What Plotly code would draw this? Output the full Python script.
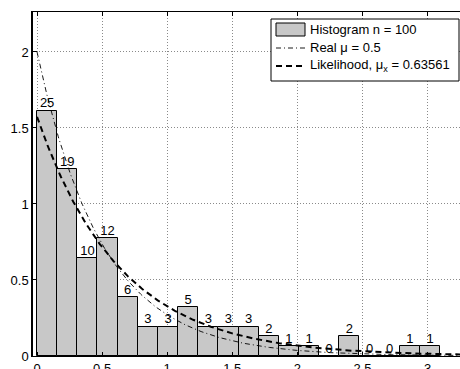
import numpy as np
import plotly.graph_objects as go

# Histogram of 100 exponential samples (bin counts) and the fitted pdfs
counts = [25, 19, 10, 12, 6, 3, 3, 5, 3, 3, 3, 2, 1, 1, 0, 2, 0, 0, 1, 1]
n_samples = 100
bin_start = 0.0
bin_width = 0.1548
mu_real = 0.5
mu_ml = 0.63561

x_ticks = [0, 0.5, 1, 1.5, 2, 2.5, 3]
x_tick_text = ["0", "0.5", "1", "1.5", "2", "2.5", "3"]
y_ticks = [0, 0.5, 1, 1.5, 2]
y_tick_text = ["0", "0.5", "1", "1.5", "2"]

counts_arr = np.array(counts, dtype=float)
centers = bin_start + bin_width * (np.arange(len(counts)) + 0.5)
density = counts_arr / (n_samples * bin_width)

xs = np.linspace(0, 3.4, 500)
pdf_real = (1.0 / mu_real) * np.exp(-xs / mu_real)
pdf_ml = (1.0 / mu_ml) * np.exp(-xs / mu_ml)

W, H = 460, 369
L, T, B, R = 33, 12, 13, 0
FONT = "Liberation Sans, Arial, Helvetica, sans-serif"

fig = go.Figure()
fig.add_trace(go.Bar(
    x=centers, y=density, width=bin_width,
    marker=dict(color="#c8c8c8", line=dict(color="black", width=1)),
    showlegend=False, hoverinfo="skip",
))
fig.add_trace(go.Scatter(
    x=xs, y=pdf_real, mode="lines",
    line=dict(color="black", width=0.9, dash="5px,3px,1px,3px"),
    showlegend=False, hoverinfo="skip",
))
fig.add_trace(go.Scatter(
    x=xs, y=pdf_ml, mode="lines",
    line=dict(color="black", width=2, dash="6px,4px"),
    showlegend=False, hoverinfo="skip",
))
fig.add_trace(go.Scatter(
    x=centers, y=density, mode="text",
    text=[str(c) for c in counts], textposition="top center",
    textfont=dict(family=FONT, size=13, color="black"),
    showlegend=False, hoverinfo="skip", cliponaxis=False,
))

# plot-area pixel -> paper coordinates
pw, ph = W - L - R, H - T - B
def px(x):
    return (x - L) / pw
def py(y):
    return (H - B - y) / ph

shapes = []
annotations = []
# legend box
shapes.append(dict(type="rect", xref="paper", yref="paper",
                   x0=px(271), x1=px(459), y0=py(81), y1=py(19),
                   fillcolor="white", line=dict(color="black", width=1), layer="above"))
shapes.append(dict(type="rect", xref="paper", yref="paper",
                   x0=px(276), x1=px(305), y0=py(36), y1=py(23),
                   fillcolor="#c8c8c8", line=dict(color="black", width=1), layer="above"))
shapes.append(dict(type="line", xref="paper", yref="paper",
                   x0=px(276), x1=px(305), y0=py(48), y1=py(48),
                   line=dict(color="black", width=0.9, dash="5px,3px,1px,3px"), layer="above"))
shapes.append(dict(type="line", xref="paper", yref="paper",
                   x0=px(276), x1=px(305), y0=py(66), y1=py(66),
                   line=dict(color="black", width=2, dash="6px,4px"), layer="above"))
for label, yy in [("Histogram n = %d" % n_samples, 30),
                  ("Real \u03bc = %g" % mu_real, 48),
                  ("Likelihood, \u03bc<sub>x</sub> = %g" % mu_ml, 65)]:
    annotations.append(dict(xref="paper", yref="paper", x=px(308), y=py(yy),
                            text=label, showarrow=False, xanchor="left", yanchor="middle",
                            font=dict(family=FONT, size=13, color="black")))

fig.update_layout(
    width=W, height=H,
    margin=dict(l=L, r=R, t=T, b=B, pad=0, autoexpand=False),
    paper_bgcolor="white", plot_bgcolor="white",
    bargap=0,
    shapes=shapes, annotations=annotations,
    font=dict(family=FONT, size=13, color="black"),
)
fig.update_xaxes(
    range=[-0.031, 3.249], tickvals=x_ticks, ticktext=x_tick_text,
    showgrid=True, gridcolor="#8a8a8a", gridwidth=1, griddash="1px,2px",
    zeroline=False, showline=True, linecolor="black", linewidth=1,
    mirror="ticks", ticks="inside", ticklen=4, tickcolor="black",
    automargin=False,
)
fig.update_yaxes(
    range=[0, 2.263], tickvals=y_ticks, ticktext=y_tick_text,
    showgrid=True, gridcolor="#8a8a8a", gridwidth=1, griddash="1px,2px",
    zeroline=False, showline=True, linecolor="black", linewidth=1.5,
    mirror=False, ticks="inside", ticklen=4, tickcolor="black",
    automargin=False,
)

fig.write_html("out.html")
